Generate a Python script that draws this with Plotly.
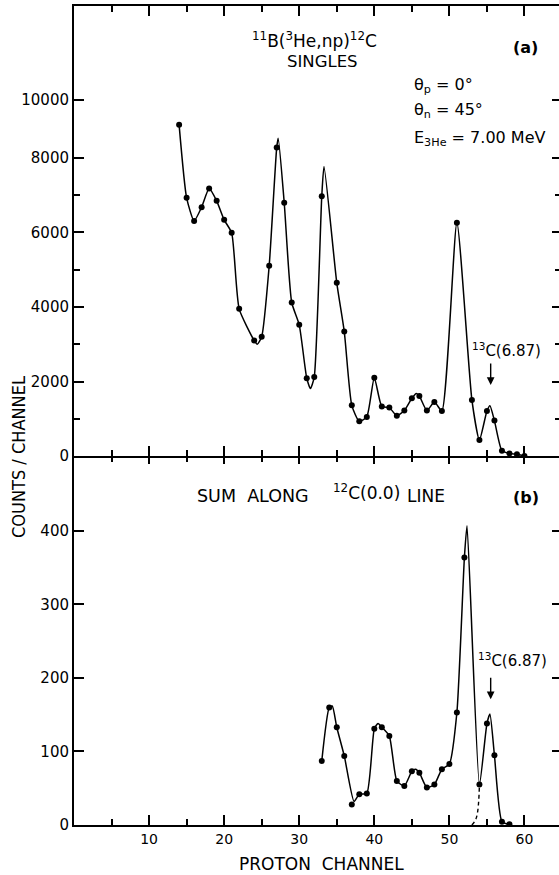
import plotly.graph_objects as go

# ---------------- data ----------------
# Panel (a): singles spectrum (measured points)
chan_a = [14, 15, 16, 17, 18, 19, 20, 21, 22, 24, 25, 26, 27, 28, 29, 30, 31, 32, 33,
          35, 36, 37, 38, 39, 40, 41, 42, 43, 44, 45, 46, 47, 48, 49, 51, 53, 54, 55,
          56, 57, 58, 59, 60]
counts_a = [8890, 6930, 6310, 6680, 7180, 6850, 6340, 5990, 3950, 3100, 3200, 5110, 8280,
            6800, 4120, 3520, 2090, 2120, 6970, 4650, 3340, 1360, 930, 1050, 2100, 1330,
            1300, 1080, 1220, 1550, 1610, 1220, 1450, 1210, 6260, 1500, 430, 1210, 950,
            140, 70, 45, 0]

# Panel (a): hand-drawn curve knots
curve_a_x = [14, 15, 16, 17, 18, 19, 20, 21, 22, 24, 24.4, 25, 26, 27, 27.2, 28, 29, 30,
             31, 31.5, 32, 33, 33.3, 35, 36, 37, 38, 39, 40, 41, 42, 43, 44, 45, 45.6,
             46, 47, 48, 49, 51, 53, 54, 55, 55.4, 56, 57, 58, 59, 60]
curve_a_y = [8890, 6930, 6310, 6680, 7180, 6850, 6340, 5990, 3950, 3100, 3000, 3200, 5110,
             8280, 8530, 6800, 4120, 3520, 2090, 1810, 2120, 6970, 7770, 4650, 3340, 1360,
             930, 1050, 2100, 1330, 1300, 1080, 1220, 1550, 1680, 1610, 1220, 1450, 1210,
             6260, 1500, 430, 1210, 1350, 950, 140, 70, 45, 0]

# Panel (b): sum along 12C(0.0) line (measured points)
chan_b = [33, 34, 35, 36, 37, 38, 39, 40, 41, 42, 43, 44, 45, 46, 47, 48, 49, 50, 51, 52,
          54, 55, 56, 57, 58]
counts_b = [87, 160, 133, 94, 28, 42, 43, 131, 133, 121, 60, 53, 73, 71, 51, 55, 76, 83,
            153, 364, 55, 138, 95, 4.5, 1]

# Panel (b): drawn curve knots
curve_b_x = [33, 34, 34.4, 35, 36, 37.3, 38, 39, 40, 40.5, 41, 42, 43, 44, 45, 45.5, 46,
             47, 48, 49, 50, 51, 52, 52.35, 54, 55, 55.4, 56, 57, 58]
curve_b_y = [87, 160, 162, 133, 94, 32, 42, 43, 131, 138, 133, 121, 60, 53, 73, 76, 71,
             51, 55, 76, 83, 153, 364, 407, 55, 138, 151, 95, 4.5, 1]

# Panel (b): dashed 13C(6.87) lower edge
dash_b_x = [53.0, 53.6, 54.0]
dash_b_y = [0, 10, 55]

# axis ticks
x_major = [10, 20, 30, 40, 50, 60]
x_minor = [5, 15, 25, 35, 45, 55]
ya_major = [0, 2000, 4000, 6000, 8000, 9560]
ya_labels = ["0", "2000", "4000", "6000", "8000", "10000"]
ya_minor = [1000, 3000, 5000, 7000]
yb_major = [0, 100, 200, 300, 400]
yb_labels = ["0", "100", "200", "300", "400"]

# arrow tips for the 13C(6.87) markers
arrow_a = (55.5, 1906)
arrow_b = (55.5, 171)

# ---------------- figure ----------------
INK = "black"
FONT = "DejaVu Sans, Verdana, sans-serif"

fig = go.Figure()

fig.add_trace(go.Scatter(x=curve_a_x, y=curve_a_y, mode="lines",
                         line=dict(color=INK, width=1.5, shape="spline", smoothing=0.55),
                         xaxis="x2", yaxis="y2", hoverinfo="skip", showlegend=False))
fig.add_trace(go.Scatter(x=chan_a, y=counts_a, mode="markers",
                         marker=dict(color=INK, size=6),
                         xaxis="x2", yaxis="y2", showlegend=False))

fig.add_trace(go.Scatter(x=curve_b_x, y=curve_b_y, mode="lines",
                         line=dict(color=INK, width=1.5, shape="spline", smoothing=0.55),
                         xaxis="x", yaxis="y", hoverinfo="skip", showlegend=False))
fig.add_trace(go.Scatter(x=dash_b_x, y=dash_b_y, mode="lines",
                         line=dict(color=INK, width=1.4, shape="spline", dash="4px,3px"),
                         xaxis="x", yaxis="y", hoverinfo="skip", showlegend=False))
fig.add_trace(go.Scatter(x=chan_b, y=counts_b, mode="markers",
                         marker=dict(color=INK, size=6),
                         xaxis="x", yaxis="y", showlegend=False))

# empty traces so the extra tick-only axes get drawn
fig.add_trace(go.Scatter(x=[], y=[], xaxis="x", yaxis="y3", showlegend=False))
fig.add_trace(go.Scatter(x=[], y=[], xaxis="x2", yaxis="y4", showlegend=False))
fig.add_trace(go.Scatter(x=[], y=[], xaxis="x3", yaxis="y", showlegend=False))

SPLIT = 369 / 819.0

minor_x = dict(tickmode="array", tickvals=x_minor, ticks="inside",
               ticklen=6, tickwidth=1.5, tickcolor=INK, showgrid=False)

fig.update_layout(
    width=559, height=875,
    margin=dict(l=74, r=0, t=6, b=50),
    paper_bgcolor="white", plot_bgcolor="white",
    font=dict(family=FONT, color=INK),
    showlegend=False,
    # bottom panel x axis (labels)
    xaxis=dict(domain=[0, 1], anchor="y", range=[0, 64.6], tickmode="array",
               tickvals=x_major, ticktext=[str(v) for v in x_major],
               tickfont=dict(size=14), showgrid=False, zeroline=False, showline=True,
               linecolor=INK, linewidth=2, mirror=False, ticks="inside", ticklen=10,
               tickwidth=1.5, tickcolor=INK, minor=minor_x),
    # top panel x axis (line at bottom and top of panel a)
    xaxis2=dict(domain=[0, 1], anchor="y2", range=[0, 64.6], tickmode="array",
                tickvals=x_major, showticklabels=False, matches="x", showgrid=False,
                zeroline=False, showline=True, linecolor=INK, linewidth=2,
                mirror="ticks", ticks="inside", ticklen=10, tickwidth=1.5,
                tickcolor=INK, minor=minor_x),
    # ticks hanging down from the top of panel b (no line)
    xaxis3=dict(overlaying="x", anchor="y", side="top", range=[0, 64.6],
                tickmode="array", tickvals=x_major, showticklabels=False,
                showgrid=False, zeroline=False, showline=False, ticks="inside",
                ticklen=8, tickwidth=1.5, tickcolor=INK, minor=minor_x),
    yaxis=dict(domain=[0, SPLIT], anchor="x", range=[0, 502], tickmode="array",
               tickvals=yb_major, ticktext=yb_labels, tickfont=dict(size=15),
               showgrid=False, zeroline=False, showline=True, linecolor=INK,
               linewidth=2, ticks="inside", ticklen=10, tickwidth=1.5, tickcolor=INK),
    yaxis2=dict(domain=[SPLIT, 1], anchor="x2", range=[0, 12080], tickmode="array",
                tickvals=ya_major, ticktext=ya_labels, tickfont=dict(size=15),
                showgrid=False, zeroline=False, showline=True, linecolor=INK,
                linewidth=2, ticks="inside", ticklen=10, tickwidth=1.5, tickcolor=INK,
                minor=dict(tickmode="array", tickvals=ya_minor, ticks="inside",
                           ticklen=6, tickwidth=1.5, tickcolor=INK, showgrid=False)),
    yaxis3=dict(overlaying="y", anchor="x", side="right", range=[0, 502],
                tickmode="array", tickvals=yb_major[1:], showticklabels=False,
                showgrid=False, zeroline=False, showline=False, ticks="inside",
                ticklen=7, tickwidth=1.5, tickcolor=INK),
    yaxis4=dict(overlaying="y2", anchor="x2", side="right", range=[0, 12080],
                tickmode="array", tickvals=ya_major[1:], showticklabels=False,
                showgrid=False, zeroline=False, showline=False, ticks="inside",
                ticklen=7, tickwidth=1.5, tickcolor=INK,
                minor=dict(tickmode="array", tickvals=ya_minor, ticks="inside",
                           ticklen=4, tickwidth=1.5, tickcolor=INK, showgrid=False)),
)


def px(xp):
    return (xp - 74) / 485.0


def py(yp):
    return (825 - yp) / 819.0


anns = [
    dict(text="<sup>11</sup>B(<sup>3</sup>He,np)<sup>12</sup>C", x=px(314), y=py(40),
         size=17, xanchor="center"),
    dict(text="SINGLES", x=px(322), y=py(62), size=16.5, xanchor="center"),
    dict(text="<b>(a)</b>", x=px(525), y=py(47), size=16, xanchor="center"),
    dict(text="θ<sub>p</sub> = 0°", x=px(412), y=py(86), size=16, xanchor="left"),
    dict(text="θ<sub>n</sub> = 45°", x=px(412), y=py(111), size=16, xanchor="left"),
    dict(text="E<sub>3</sub><sub>He</sub> = 7.00 MeV", x=px(412), y=py(139), size=16,
         xanchor="left"),
    dict(text="SUM  ALONG", x=px(311), y=py(496), size=17.5, xanchor="right"),
    dict(text="<sup>12</sup>C(0.0)", x=px(366), y=py(492), size=17, xanchor="center"),
    dict(text="LINE", x=px(426), y=py(496), size=17, xanchor="center"),
    dict(text="<b>(b)</b>", x=px(526), y=py(497), size=16, xanchor="center"),
    dict(text="<sup>13</sup>C(6.87)", x=px(506), y=py(350), size=15, xanchor="center"),
    dict(text="<sup>13</sup>C(6.87)", x=px(512), y=py(660), size=15, xanchor="center"),
    dict(text="PROTON  CHANNEL", x=px(321), y=py(864), size=17, xanchor="center"),
]
for a in anns:
    fig.add_annotation(text=a["text"], x=a["x"], y=a["y"], xref="paper", yref="paper",
                       xanchor=a["xanchor"], yanchor="middle", showarrow=False,
                       font=dict(size=a["size"], family=FONT, color=INK))

fig.add_annotation(text="COUNTS / CHANNEL", x=px(18), y=py(457), xref="paper",
                   yref="paper", textangle=-90, showarrow=False, xanchor="center",
                   yanchor="middle",
                   font=dict(size=18, color=INK,
                             family="Liberation Sans Narrow, DejaVu Sans Condensed, Roboto Condensed, sans-serif"))

# arrows
fig.add_annotation(x=arrow_a[0], y=arrow_a[1], xref="x2", yref="y2", text="",
                   showarrow=True, ax=0, ay=-23, arrowhead=2, arrowsize=1.1,
                   arrowwidth=1.4, arrowcolor=INK)
fig.add_annotation(x=arrow_b[0], y=arrow_b[1], xref="x", yref="y", text="",
                   showarrow=True, ax=0, ay=-23, arrowhead=2, arrowsize=1.1,
                   arrowwidth=1.4, arrowcolor=INK)

fig.write_html("out.html")
